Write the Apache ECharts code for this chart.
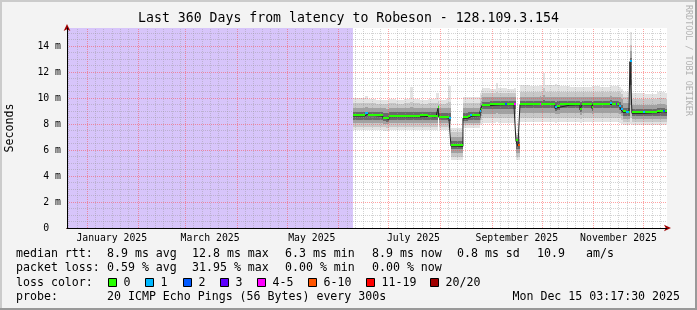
<!DOCTYPE html>
<html><head><meta charset="utf-8">
<script src="https://cdn.jsdelivr.net/npm/echarts@6/dist/echarts.min.js"></script>
<style>html,body{margin:0;padding:0;background:#f3f3f3}#c{width:697px;height:310px}</style>
</head><body><div id="c"></div>
<script>
// ---- data (day offsets from 2025-01-01 00:00, values in ms) ----
const dayIn2025 = [159.7,166.9,168.7,173.5,177.7,179.5,181.3,185.5,190.3,193.9,
  195.7,199.9,204.7,209.5,210.7,211.3,215.5,216.7,217.3,218.5,
  222.1,225.7,228.7,229.9,231.1,235.9,236.5,237.1,241.9,245.5,
  246.7,250.9,252.1,256.3,257.5,258.7,259.9,265.9,271.9,272.5,
  273.7,274.9,280.9,282.1,283.9,289.9,295.9,297.1,303.1,303.7,
  307.9,313.9,315.1,317.5,318.1,319.3,320.5,321.7,323.5,325.3,
  325.9,327.1,333.7,334.9,342.1,345.7,346.9,348.1];
const median = [8.62,8.77,8.64,8.6,8.42,8.36,8.56,8.56,8.55,8.55,
  8.55,8.58,8.55,8.56,9.2,8.5,8.5,8.45,8.42,6.3,
  6.28,8.44,8.56,8.6,8.64,8.95,9.08,9.41,9.45,9.47,
  9.48,9.5,9.48,9.5,6.7,6.3,9.48,9.5,9.5,9.5,
  9.5,9.5,9.2,9.3,9.45,9.47,9.1,9.48,9.2,9.5,
  9.5,9.52,9.5,9.48,9.45,9.3,9.1,8.9,8.88,8.85,
  12.8,8.82,8.85,8.87,8.95,8.93,8.9,8.9];
// loss bucket index: 0,1,2,3,4-5,6-10,11-19,20/20
const lossCode = [0,1,0,0,0,0,0,0,0,0,
  0,0,0,0,0,0,0,0,1,0,
  0,0,0,1,0,1,0,0,0,0,
  0,2,0,4,0,5,0,0,4,0,
  0,0,1,0,0,0,0,0,0,0,
  0,1,0,3,0,1,1,0,1,0,
  1,0,1,0,0,2,0,0];
const smokeMin = [7.54,7.54,7.56,7.52,7.5,7.5,7.54,7.55,7.53,7.53,
  7.54,7.55,7.52,7.54,8.5,7.54,7.55,7.54,7.5,5.2,
  5.2,7.7,7.7,7.7,7.7,7.9,8.0,8.1,8.1,8.12,
  8.1,8.1,8.1,8.1,5.2,5.2,8.15,8.15,8.16,8.15,
  8.15,8.15,8.1,8.12,8.15,8.15,8.1,8.15,8.1,8.15,
  8.15,8.15,8.15,8.15,8.15,8.1,8.0,7.9,7.9,7.9,
  8.0,7.9,7.9,7.9,7.92,7.92,7.9,7.9];
const smokeL3 = [7.77,7.77,7.78,7.76,7.74,7.72,7.77,7.78,7.76,7.76,
  7.77,7.78,7.76,7.77,8.52,7.77,7.78,7.77,7.75,5.5,
  5.5,7.9,7.9,7.9,7.9,8.1,8.3,8.45,8.45,8.46,
  8.45,8.45,8.45,8.45,5.5,5.5,8.5,8.5,8.5,8.5,
  8.5,8.5,8.45,8.46,8.5,8.5,8.4,8.5,8.45,8.5,
  8.5,8.5,8.5,8.5,8.5,8.45,8.3,8.15,8.15,8.15,
  8.5,8.12,8.12,8.12,8.15,8.15,8.15,8.15];
const smokeL2 = [8.05,8.05,8.05,8.04,8.0,7.98,8.04,8.05,8.04,8.04,
  8.04,8.05,8.04,8.05,8.54,8.04,8.04,8.04,8.0,5.75,
  5.75,8.08,8.08,8.08,8.1,8.3,8.6,8.8,8.8,8.82,
  8.8,8.8,8.8,8.8,5.8,5.8,8.85,8.85,8.85,8.85,
  8.85,8.85,8.75,8.8,8.85,8.85,8.7,8.85,8.75,8.85,
  8.85,8.85,8.85,8.85,8.85,8.8,8.6,8.4,8.4,8.4,
  9.5,8.35,8.35,8.35,8.4,8.4,8.4,8.4];
const smokeL1 = [8.3,8.3,8.3,8.3,8.2,8.18,8.3,8.3,8.3,8.3,
  8.3,8.3,8.3,8.3,8.56,8.28,8.28,8.25,8.22,6.05,
  6.05,8.25,8.3,8.3,8.32,8.5,8.85,9.15,9.15,9.16,
  9.16,9.16,9.16,9.16,6.1,6.05,9.2,9.2,9.2,9.2,
  9.2,9.2,9.0,9.1,9.2,9.2,8.95,9.2,9.0,9.2,
  9.2,9.2,9.2,9.2,9.2,9.05,8.85,8.65,8.65,8.65,
  11.0,8.6,8.6,8.6,8.65,8.65,8.65,8.65];
const smokeU1 = [8.92,8.95,8.92,8.9,8.85,8.82,8.9,8.9,8.9,8.92,
  8.9,8.9,8.9,8.92,9.3,8.88,8.88,8.88,8.85,6.7,
  6.68,8.88,8.9,8.9,8.92,9.3,9.5,9.72,9.75,9.76,
  9.76,9.78,9.76,9.78,6.85,6.6,9.8,9.8,9.8,9.8,
  9.82,9.8,9.7,9.75,9.8,9.78,9.7,9.8,9.72,9.8,
  9.8,9.82,9.8,9.8,9.8,9.7,9.5,9.2,9.2,9.2,
  13.1,9.12,9.12,9.12,9.2,9.2,9.15,9.15];
const smokeU2 = [9.24,9.28,9.24,9.22,9.2,9.18,9.24,9.22,9.24,9.28,
  9.24,9.22,9.24,9.26,9.5,9.2,9.22,9.25,9.25,7.0,
  7.0,9.25,9.25,9.25,9.26,9.6,9.8,10.05,10.05,10.08,
  10.06,10.08,10.06,10.08,7.0,6.85,10.1,10.1,10.12,10.1,
  10.2,10.1,10.05,10.08,10.1,10.08,10.05,10.1,10.05,10.1,
  10.1,10.12,10.1,10.1,10.1,10.05,9.9,9.6,9.6,9.6,
  13.6,9.5,9.5,9.5,9.55,9.55,9.5,9.5];
const smokeU3 = [9.6,9.65,9.58,9.56,9.55,9.55,9.6,9.55,9.6,9.7,
  9.6,9.56,9.6,9.65,9.8,9.55,9.6,9.7,9.7,7.35,
  7.35,9.65,9.65,9.65,9.65,10.0,10.2,10.4,10.38,10.5,
  10.4,10.42,10.4,10.42,7.15,7.05,10.5,10.48,10.5,10.5,
  10.8,10.5,10.5,10.5,10.5,10.45,10.45,10.48,10.48,10.5,
  10.48,10.5,10.5,10.5,10.5,10.45,10.3,10.05,10.05,10.05,
  14.1,9.95,9.95,9.95,10.0,10.0,9.95,9.95];
const smokeMax = [9.97,10.15,9.9,9.88,9.85,9.85,9.95,9.82,9.9,10.87,
  9.92,9.85,9.95,10.36,10.36,9.85,9.9,10.9,10.9,7.7,
  7.72,10.1,10.08,10.1,10.05,10.4,10.6,10.75,10.7,11.15,
  10.75,10.78,10.7,10.75,7.3,7.3,11.0,10.9,11.0,10.95,
  11.9,11.0,11.05,11.0,10.9,10.85,10.85,10.85,10.9,10.9,
  10.85,10.9,10.9,10.9,10.9,10.85,10.7,10.5,10.5,10.5,
  15.1,10.4,10.4,10.3,10.5,10.45,10.4,10.4];

// axis labels
const monthLabelText = ['January 2025','March 2025','May 2025','July 2025','September 2025','November 2025'];
const monthLabelMonth = [0,2,4,6,8,10];
const yLabelUnit = ' m';
const lossLabels = ['0','1','2','3','4-5','6-10','11-19','20/20'];
const lossColors = ['#26ff00','#00b8ff','#0059ff','#5e00ff','#ff00ff','#ff5500','#ff0000','#a00000'];

// legend texts
const titleText = 'Last 360 Days from latency to Robeson - 128.109.3.154';
const rttStats = ['8.9 ms avg','12.8 ms max','6.3 ms min','8.9 ms now','0.8 ms sd','10.9','am/s'];
const lossStats = ['0.59 % avg','31.95 % max','0.00 % min','0.00 % now'];
const probeText = '20 ICMP Echo Pings (56 Bytes) every 300s';
const dateText = 'Mon Dec 15 03:17:30 2025';

// ---- build ----
const DAY = 86400000;
const jan1 = new Date(2025,0,1).getTime();
const startTime = new Date(2024,11,20,3,17,30).getTime();
const endTime = new Date(2025,11,15,3,17,30).getTime();
const times = dayIn2025.map(d => jan1 + d*DAY);
const yMax = 200/13;
const monthLabelAt = monthLabelMonth.map(m => new Date(2025,m,16).getTime());

const majorGrid = [], minorGrid = [];
for (let m = 0; m < 12; m++) majorGrid.push(new Date(2025,m,1).getTime());
[21,26].forEach(d => minorGrid.push(new Date(2024,11,d).getTime()));
for (let m = 0; m < 12; m++) [6,11,16,21,26].forEach(d => {
  const t = new Date(2025,m,d).getTime(); if (t < endTime) minorGrid.push(t);
});

const MONO = 'DejaVu Sans Mono';
const series = [];
const bounds = [smokeMin, smokeL3, smokeL2, smokeL1, smokeU1, smokeU2, smokeU3, smokeMax];
const bandColors = ['#e3e3e3','#c8c8c8','#a2a2a2','#6a6a6a','#a2a2a2','#c8c8c8','#e3e3e3'];

// smoke: stepped bands between consecutive bounds
series.push({
  type:'custom', z:2, silent:true, animation:false, clip:true,
  data: times.slice(0,-1).map((t,i) => [t, times[i+1]].concat(bounds.map(b => b[i]))),
  encode:{x:[0,1], y:[2,9]},
  renderItem: (params, api) => {
    const t0 = api.value(0), t1 = api.value(1);
    const x0 = Math.round(api.coord([t0, 0])[0]);
    const x1 = Math.round(api.coord([t1, 0])[0]);
    const children = [];
    for (let k = 0; k < 7; k++) {
      const yLo = Math.round(api.coord([t0, api.value(2+k)])[1]);
      const yHi = Math.round(api.coord([t0, api.value(3+k)])[1]);
      if (yLo - yHi <= 0) continue;
      children.push({type:'rect', shape:{x:x0, y:yHi, width:x1-x0, height:yLo-yHi}, style:{fill:bandColors[k]}});
    }
    return {type:'group', children};
  }
});
series.push({
  type:'line', step:'end', symbol:'none', showSymbol:false, z:5, silent:true, animation:false,
  lineStyle:{color:'#202020', width:1},
  data: times.map((t,i) => [t, median[i]]),
  markArea: {silent:true, z:1, animation:false, itemStyle:{color:'#d7c5fa'},
    data:[[{xAxis:startTime},{xAxis:times[0]}]]},
  markLine: {silent:true, z:3, animation:false, symbol:['none','none'], label:{show:false},
    emphasis:{disabled:true},
    data: minorGrid.map(t => ({xAxis:t, lineStyle:{color:'rgba(150,150,150,0.42)', type:[1,1], width:1}}))
      .concat(majorGrid.map(t => ({xAxis:t, lineStyle:{color:'rgba(255,70,70,0.5)', type:[1,1], width:1}})))}
});
series.push({
  type:'custom', z:6, silent:true, animation:false, clip:true,
  data: times.slice(0,-1).map((t,i) => [t, times[i+1], median[i], lossCode[i]]),
  encode:{x:[0,1], y:2},
  renderItem: (params, api) => {
    const a = api.coord([api.value(0), api.value(2)]);
    const b = api.coord([api.value(1), api.value(2)]);
    const x0 = Math.round(a[0]), x1 = Math.round(b[0]);
    return {type:'rect', shape:{x:x0, y:Math.round(a[1])-2, width:Math.max(x1-x0,1), height:2},
      style:{fill: lossColors[api.value(3)]}};
  }
});

const graphics = [];
function txt(s, x, y, o) {
  graphics.push(Object.assign({type:'text', silent:true, z:10, x:x, y:y,
    style:{text:s, x:0, y:0, fill:'#000', font:'11.6px "' + MONO + '"', align:'left', verticalAlign:'middle'}}, o || {}));
}
txt(titleText, 348.5, 19, {style:{text:titleText, x:0, y:0, fill:'#000', font:'13.2px "'+MONO+'"', align:'center', verticalAlign:'middle'}});
txt('Seconds', 10, 128, {rotation:Math.PI/2, style:{text:'Seconds', x:0, y:0, fill:'#000', font:'11.6px "'+MONO+'"', align:'center', verticalAlign:'middle'}});
txt('RRDTOOL / TOBI OETIKER', 688, 5, {rotation:-Math.PI/2, style:{text:'RRDTOOL / TOBI OETIKER', x:0, y:0, fill:'#b2b2b2', font:'8.4px "'+MONO+'"', align:'left', verticalAlign:'middle'}});
const rttX = [107,192,285,372,457,537,586];
txt('median rtt:', 16, 253.5);
rttStats.forEach((s,i) => txt(s, rttX[i], 253.5));
txt('packet loss:', 16, 268);
lossStats.forEach((s,i) => txt(s, rttX[i], 268));
txt('loss color:', 16, 282.5);
const boxX = [108,145,183,220,257,308,366,430];
lossLabels.forEach((s,i) => {
  graphics.push({type:'rect', silent:true, z:10, shape:{x:boxX[i]+0.5, y:278.5, width:8, height:8},
    style:{fill:lossColors[i], stroke:'#000', lineWidth:1}});
  txt(s, boxX[i]+15.5, 282.5);
});
txt('probe:', 16, 297);
txt(probeText, 107, 297);
txt(dateText, 680, 297, {style:{text:dateText, x:0, y:0, fill:'#000', font:'11.6px "'+MONO+'"', align:'right', verticalAlign:'middle'}});
// frame
graphics.push({type:'rect', silent:true, z:11, shape:{x:0, y:0, width:697, height:2}, style:{fill:'#cbcbcb'}});
graphics.push({type:'rect', silent:true, z:11, shape:{x:0, y:0, width:2, height:310}, style:{fill:'#cbcbcb'}});
graphics.push({type:'rect', silent:true, z:11, shape:{x:0, y:308, width:697, height:2}, style:{fill:'#999999'}});
graphics.push({type:'rect', silent:true, z:11, shape:{x:695, y:0, width:2, height:310}, style:{fill:'#999999'}});

const chart = echarts.init(document.getElementById('c'), null, {renderer:'canvas'});
chart.setOption({
  animation:false,
  backgroundColor:'#f3f3f3',
  textStyle:{fontFamily:MONO},
  grid:{left:67, right:30, top:28, bottom:82, show:true, backgroundColor:'#ffffff', borderWidth:0, containLabel:false, outerBoundsMode:'none'},
  xAxis:[{
    type:'value', min:startTime, max:endTime, z:4, scale:true,
    axisLine:{show:true, onZero:false, lineStyle:{color:'#000', width:1}},
    axisTick:{show:false}, splitLine:{show:false}, minorTick:{show:false},
    axisLabel:{show:true, customValues:monthLabelAt, color:'#000', fontFamily:MONO, fontSize:9.8, margin:5, hideOverlap:false,
      formatter: v => { let bi = 0, bd = Infinity; monthLabelAt.forEach((t,i) => { const d = Math.abs(t - v); if (d < bd) { bd = d; bi = i; } }); return bd < 3*DAY ? monthLabelText[bi] : ''; }}
  },{
    type:'value', min:startTime, max:endTime, z:3.9, position:'bottom', scale:true,
    axisLine:{show:true, onZero:false, symbol:['none','arrow'], symbolSize:[5,7], symbolOffset:[0,4], lineStyle:{color:'#a00000', width:1}},
    axisTick:{show:false}, axisLabel:{show:false}, splitLine:{show:false}
  }],
  yAxis:[{
    type:'value', min:0, max:yMax, interval:0.5, z:4, position:'left',
    axisLine:{show:true, onZero:false, lineStyle:{color:'#000', width:1}},
    axisTick:{show:false},
    axisLabel:{color:'#000', fontFamily:MONO, fontSize:9.8, margin:6, showMaxLabel:false,
      formatter: v => (Math.abs(v % 2) < 1e-9 ? (v === 0 ? '0  ' : v + yLabelUnit) : '')},
    splitLine:{show:true, showMaxLine:false, lineStyle:{color:['rgba(255,70,70,0.5)','rgba(150,150,150,0.42)','rgba(150,150,150,0.42)','rgba(150,150,150,0.42)'], type:[1,1], width:1}}
  },{
    type:'value', min:0, max:yMax, z:3.9, position:'left',
    axisLine:{show:true, onZero:false, symbol:['none','arrow'], symbolSize:[5,7], symbolOffset:[0,4], lineStyle:{color:'#a00000', width:1}},
    axisTick:{show:false}, axisLabel:{show:false}, splitLine:{show:false}
  }],
  series: series,
  graphic: graphics
});
</script>
</body></html>
